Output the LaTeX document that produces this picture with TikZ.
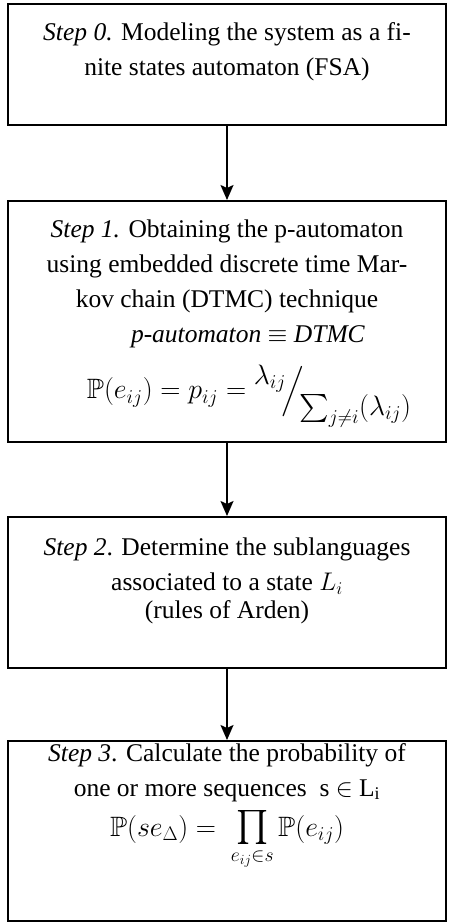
\RequirePackage{fix-cm}
\documentclass[tikz,border=0pt]{standalone}
\usepackage{amsmath,amssymb}
\usepackage{fontspec}
\setmainfont{Liberation Serif}
\usetikzlibrary{arrows.meta,positioning}

\newcommand{\mathsize}{\fontsize{28}{35}\selectfont}

\begin{document}
\begin{tikzpicture}[x=1pt,y=-1pt,
		stepbox/.style={draw,line width=1.8pt,minimum width=438pt,anchor=north,inner sep=0pt},
		steptext/.style={align=center,inner sep=0pt,font=\fontsize{25.5}{35}\selectfont},
		flow/.style={line width=1.8pt,-{Stealth[length=15pt,width=13pt,inset=3pt]}}]
			\useasboundingbox (0,0) rectangle (448,924);

			\node [stepbox,minimum height=121pt] (step0) at (227,3) {};
			\node [stepbox,minimum height=241pt] (step1) at (227,200) {};
			\node [stepbox,minimum height=151pt] (step2) at (227,516) {};
			\node [stepbox,minimum height=180pt] (step3) at (227,740) {};

			\node [steptext,below=19pt of step0.north] (text0)
				{\textit{Step 0.} Modeling the system as a fi-\\nite states automaton (FSA)};
			\node [steptext,below=20pt of step1.north] (text1)
				{\textit{Step 1.} Obtaining the p-automaton\\
				using embedded discrete time Mar-\\
				kov chain (DTMC) technique\\
				\hspace*{42pt}\textit{p-automaton} $\equiv$ \textit{DTMC}\\[16pt]
				\hspace*{44pt}{\mathsize$\mathbb{P}(e_{ij})=p_{ij}=\raisebox{1.1ex}{$\lambda_{ij}$}\!\Big/\!\raisebox{-1.3ex}{$\sum_{j\neq i}(\lambda_{ij})$}$}};
			\node [steptext,below=22pt of step2.north] (text2)
				{\textit{Step 2}. Determine the sublanguages\\
				associated to a state $L_i$\\[-7pt]
				(rules of Arden)};
			\node [steptext,below=3pt of step3.north] (text3)
				{\textit{Step 3}. Calculate the probability of\\
				one or more sequences\ \ s $\in$ L$_{\mathrm{i}}$\\[5pt]
				{\mathsize$\mathbb{P}(se_{\Delta})=\ \mathop{\text{\fontsize{34}{34}\selectfont$\prod$}}\limits_{e_{ij}\in s}\mathbb{P}(e_{ij})$}};

			\draw [flow] (step0) to (step1);
			\draw [flow] (step1) to (step2);
			\draw [flow] (step2) to (step3);
		\end{tikzpicture}
\end{document}
